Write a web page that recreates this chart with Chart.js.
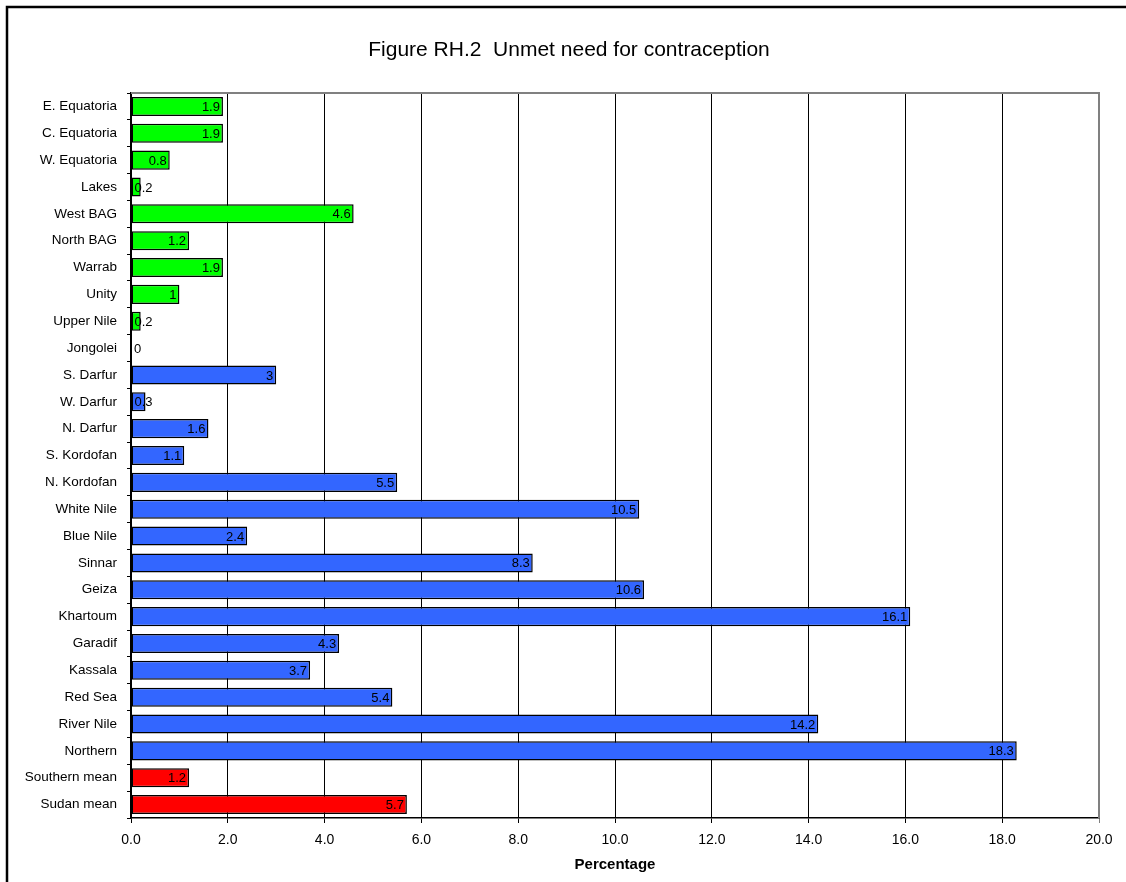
<!DOCTYPE html>
<html>
<head>
<meta charset="utf-8">
<title>Unmet need for contraception</title>
<script src="https://cdn.jsdelivr.net/npm/chart.js@4"></script>
<style>
    html, body { margin: 0; padding: 0; background: #fff; }
    #wrap { position: absolute; left: 0; top: 0; width: 1126px; height: 882px; }
</style>
</head>
<body>
<div id="wrap"><canvas id="chart" width="1126" height="882"></canvas></div>
<script>
// Data, top to bottom
const regions = ['E. Equatoria', 'C. Equatoria', 'W. Equatoria', 'Lakes', 'West BAG', 'North BAG',
    'Warrab', 'Unity', 'Upper Nile', 'Jongolei', 'S. Darfur', 'W. Darfur', 'N. Darfur',
    'S. Kordofan', 'N. Kordofan', 'White Nile', 'Blue Nile', 'Sinnar', 'Geiza', 'Khartoum',
    'Garadif', 'Kassala', 'Red Sea', 'River Nile', 'Northern', 'Southern mean', 'Sudan mean'];
const unmetNeed = [1.9, 1.9, 0.8, 0.2, 4.6, 1.2, 1.9, 1, 0.2, 0, 3, 0.3, 1.6, 1.1, 5.5, 10.5,
    2.4, 8.3, 10.6, 16.1, 4.3, 3.7, 5.4, 14.2, 18.3, 1.2, 5.7];
const regionGroup = ['south', 'south', 'south', 'south', 'south', 'south', 'south', 'south', 'south', 'south',
    'north', 'north', 'north', 'north', 'north', 'north', 'north', 'north', 'north', 'north',
    'north', 'north', 'north', 'north', 'north', 'mean', 'mean'];
const xTicks = [0, 2, 4, 6, 8, 10, 12, 14, 16, 18, 20];

const groupColors = { south: '#00FF00', north: '#3366FF', mean: '#FF0000' };
const FONT = 'Arial, "Liberation Sans", sans-serif';

// Frame, title and top border of the plot
const decorPlugin = {
    id: 'decor',
    beforeDraw(chart) {
        const ctx = chart.ctx;
        ctx.save();
        ctx.strokeStyle = '#000';
        ctx.lineWidth = 2.5;
        ctx.strokeRect(7, 7, 1300, 1000);
        ctx.fillStyle = '#000';
        ctx.font = '21px ' + FONT;
        ctx.textAlign = 'center';
        ctx.textBaseline = 'middle';
        ctx.fillText('Figure RH.2  Unmet need for contraception', 569, 50);
        ctx.restore();
    },
    afterDatasetsDraw(chart) {
        const ctx = chart.ctx;
        const area = chart.chartArea;
        ctx.save();
        ctx.strokeStyle = '#808080';
        ctx.lineWidth = 2;
        ctx.beginPath();
        ctx.moveTo(area.left, area.top);
        ctx.lineTo(area.right, area.top);
        ctx.lineTo(area.right, area.bottom);
        ctx.stroke();

        // value labels at the inside end of each bar
        const meta = chart.getDatasetMeta(0);
        ctx.fillStyle = '#000';
        ctx.font = '13px ' + FONT;
        ctx.textAlign = 'right';
        ctx.textBaseline = 'middle';
        meta.data.forEach((bar, i) => {
            const text = String(unmetNeed[i]);
            const w = ctx.measureText(text).width;
            const x = Math.max(bar.x - 3, bar.base + 3 + w);
            ctx.fillText(text, x, bar.y + 1);
        });
        ctx.restore();
    }
};

new Chart(document.getElementById('chart'), {
    type: 'bar',
    data: {
        labels: regions,
        datasets: [{
            data: unmetNeed,
            backgroundColor: regionGroup.map(g => groupColors[g]),
            borderColor: '#000',
            borderWidth: 1.5,
            borderSkipped: false,
            barPercentage: 0.71,
            categoryPercentage: 1
        }]
    },
    options: {
        indexAxis: 'y',
        responsive: false,
        animation: false,
        layout: { padding: { left: 0, top: 93, right: 27, bottom: 0 } },
        plugins: {
            legend: { display: false },
            title: { display: false },
            tooltip: { enabled: false }
        },
        scales: {
            x: {
                min: 0,
                max: 20,
                afterBuildTicks: (scale) => { scale.ticks = xTicks.map(v => ({ value: v })); },
                afterFit: (scale) => { scale.height = 64; },
                ticks: {
                    color: '#000',
                    font: { family: FONT, size: 14 },
                    padding: 9,
                    maxRotation: 0,
                    callback: (v) => Number(v).toFixed(1)
                },
                grid: {
                    color: (c) => (c.tick && c.tick.value === 20 ? '#808080' : '#000'),
                    lineWidth: 1,
                    tickLength: 5
                },
                border: { color: '#000', width: 1.5 },
                title: {
                    display: true,
                    text: 'Percentage',
                    color: '#000',
                    font: { family: FONT, size: 15, weight: 'bold' },
                    padding: { top: 0, bottom: 8 }
                }
            },
            y: {
                afterFit: (scale) => { scale.width = 131; },
                ticks: {
                    color: '#000',
                    font: { family: FONT, size: 13.5 },
                    padding: 10
                },
                grid: {
                    offset: true,
                    drawOnChartArea: false,
                    color: '#000',
                    tickLength: 4
                },
                border: { color: '#000', width: 1.5 }
            }
        }
    },
    plugins: [decorPlugin]
});
</script>
</body>
</html>
